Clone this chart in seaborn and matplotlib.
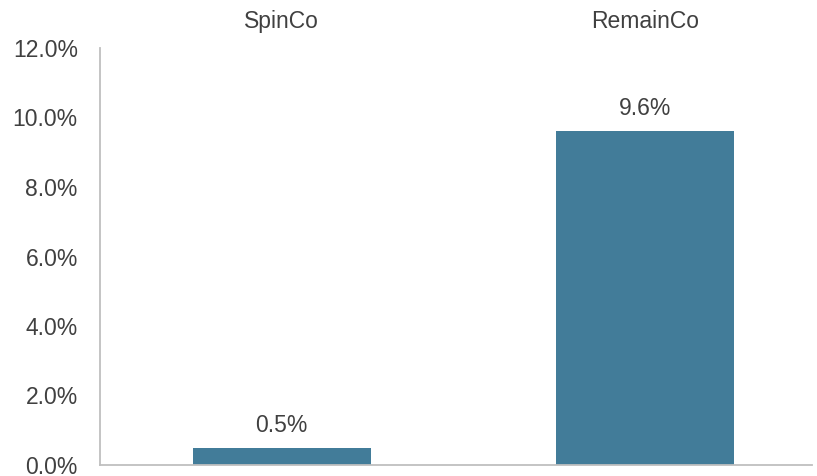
import numpy as np
import pandas as pd
import matplotlib
matplotlib.use("Agg")
import matplotlib.pyplot as plt
import seaborn as sns
from matplotlib.ticker import PercentFormatter

# ------------------------------------------------------------
# Data
# ------------------------------------------------------------
CATEGORIES = ["SpinCo", "RemainCo"]
VALUES = [0.5, 9.6]
Y_TICKS = [0, 2, 4, 6, 8, 10, 12]

BAR_COLOR = "#427C99"
TEXT_COLOR = "#404040"
AXIS_COLOR = "#BFBFBF"
FS = 16.5


def main():
    sns.set_theme(style="white")
    plt.rcParams["font.family"] = ["Liberation Sans", "DejaVu Sans"]

    df = pd.DataFrame({"Entity": CATEGORIES, "Value": VALUES})

    fig = plt.figure(figsize=(8.17, 4.76), dpi=100)
    ax = fig.add_axes([100 / 817, 1 - 465 / 476, 712 / 817, 417 / 476])

    sns.barplot(
        data=df,
        x="Entity",
        y="Value",
        order=CATEGORIES,
        color=BAR_COLOR,
        saturation=1,
        width=0.49,
        linewidth=0,
        ax=ax
    )

    for i, v in enumerate(VALUES):
        ax.annotate(
            f"{v:.1f}%",
            (i, v),
            xytext=(0, 8),
            textcoords="offset points",
            ha="center",
            va="bottom",
            fontsize=FS,
            color=TEXT_COLOR
        )

    ax.set_xlim(-0.5, 1.46)
    ax.set_ylim(0, 12)
    ax.set_yticks(Y_TICKS)
    ax.yaxis.set_major_formatter(PercentFormatter(decimals=1))

    ax.xaxis.tick_top()
    ax.set_xlabel("")
    ax.set_ylabel("")
    ax.tick_params(axis="x", length=0, pad=11, labelsize=FS, labelcolor=TEXT_COLOR)
    ax.tick_params(axis="y", length=0, pad=16, labelsize=FS, labelcolor=TEXT_COLOR)

    for side in ["top", "right"]:
        ax.spines[side].set_visible(False)
    for side in ["left", "bottom"]:
        ax.spines[side].set_color(AXIS_COLOR)
        ax.spines[side].set_linewidth(1.3)

    fig.savefig("out.png", dpi=100)
    plt.close(fig)


if __name__ == "__main__":
    main()
